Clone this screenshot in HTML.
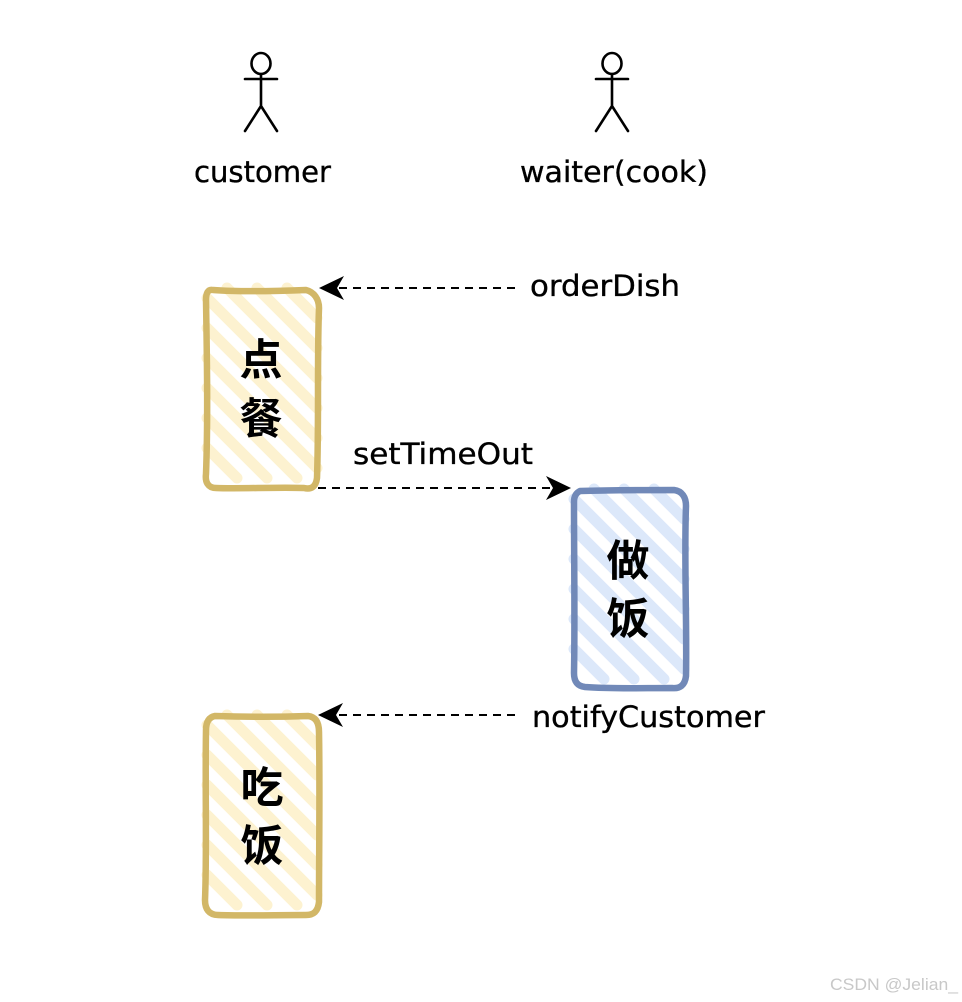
<!DOCTYPE html>
<html>
<head>
<meta charset="utf-8">
<style>
html,body{margin:0;padding:0;background:#fff;width:962px;height:1002px;overflow:hidden}
svg{display:block}
.l{font-family:"DejaVu Sans",sans-serif;font-size:29px;fill:#000;stroke:#000;stroke-width:.35}
.c{font-family:"Liberation Sans","Noto Sans CJK SC",sans-serif;font-size:43px;font-weight:700;fill:#000;text-anchor:middle}
.h{fill:none;stroke-width:11;stroke-linecap:round}
.o{fill:none;stroke-width:6.5;stroke-linejoin:round;stroke-linecap:round}
.d{stroke:#000;stroke-width:2;stroke-dasharray:8 6;fill:none}
.a{fill:none;stroke:#000;stroke-width:2.6;stroke-linecap:round}
</style>
</head>
<body>
<svg width="962" height="1002" viewBox="0 0 962 1002" xmlns="http://www.w3.org/2000/svg">
<rect width="962" height="1002" fill="#fff"/>

<!-- actors -->
<g class="a">
<ellipse cx="261" cy="63.5" rx="9.5" ry="10.5"/>
<path d="M261 74V106M245 79H277M261 106L245 131M261 106L277 131"/>
<ellipse cx="612" cy="63.5" rx="9.5" ry="10.5"/>
<path d="M612 74V106M596 79H628M612 106L596 131M612 106L628 131"/>
</g>
<text class="l" x="194" y="182" textLength="137" lengthAdjust="spacingAndGlyphs">customer</text>
<text class="l" x="520" y="182" textLength="188" lengthAdjust="spacingAndGlyphs">waiter(cook)</text>

<!-- box 1 -->
<g transform="translate(205,288)">
<path class="h" stroke="#fdf2d0" d="M22 0L112 90M52 0L112 60M82 0L112 30M2 10L112 120M2 40L112 150M2 70L112 180M2 100L92 190M2 130L62 190M2 160L32 190"/>
</g>
<path class="o" stroke="#d2b767" d="M213 290C240 292 280 291 306 290C314 292 319 299 319 308C317 360 319 420 317 478C316 486 312 490 304 488C275 487 240 489 216 488C208 488 205 482 206 474C208 420 207 360 206 300C206 293 208 289 213 290Z"/>
<text class="c" x="261" y="375">点</text>
<text class="c" x="261" y="434">餐</text>

<!-- box 2 -->
<g transform="translate(572,489)">
<path class="h" stroke="#dce8fa" d="M22 0L112 90M52 0L112 60M82 0L112 30M2 10L112 120M2 40L112 150M2 70L112 180M2 100L92 190M2 130L62 190M2 160L32 190"/>
</g>
<path class="o" stroke="#7189b8" d="M580 491C610 490 640 490 674 490C682 491 686 497 686 506C684 560 687 620 686 676C685 685 680 689 672 688C640 688 610 689 585 687C577 686 574 681 574 673C575 620 574 560 574 502C574 496 576 493 580 491Z"/>
<text class="c" x="628" y="576">做</text>
<text class="c" x="628" y="634">饭</text>

<!-- box 3 -->
<g transform="translate(205,715)">
<path class="h" stroke="#fdf2d0" d="M22 0L112 90M52 0L112 60M82 0L112 30M2 10L112 120M2 40L112 150M2 70L112 180M2 100L92 190M2 130L62 190M2 160L32 190"/>
</g>
<path class="o" stroke="#d2b767" d="M215 716C245 717 280 717 308 716C316 717 319 723 319 732C320 790 319 850 319 902C318 911 314 915 306 915C275 915 245 916 218 915C209 915 205 909 205 900C207 850 205 790 206 730C206 722 209 717 215 716Z"/>
<text class="c" x="262" y="803">吃</text>
<text class="c" x="262" y="861">饭</text>

<!-- connectors -->
<path class="d" d="M515 288H338"/>
<path d="M319 288L344 276L337 288L344 300Z" fill="#000"/>
<path class="d" d="M318 488H552"/>
<path d="M571 488L546 476L553 488L546 500Z" fill="#000"/>
<path class="d" d="M515 715H338"/>
<path d="M318 715L343 703L336 715L343 727Z" fill="#000"/>

<text class="l" x="530" y="296" textLength="150" lengthAdjust="spacingAndGlyphs">orderDish</text>
<text class="l" x="353" y="464" textLength="180" lengthAdjust="spacingAndGlyphs">setTimeOut</text>
<text class="l" x="532" y="727" textLength="233" lengthAdjust="spacingAndGlyphs">notifyCustomer</text>

<text x="830" y="990" font-family="Liberation Sans,sans-serif" font-size="17" fill="#c8c8c8" textLength="128" lengthAdjust="spacingAndGlyphs">CSDN @Jelian_</text>
</svg>
</body>
</html>
